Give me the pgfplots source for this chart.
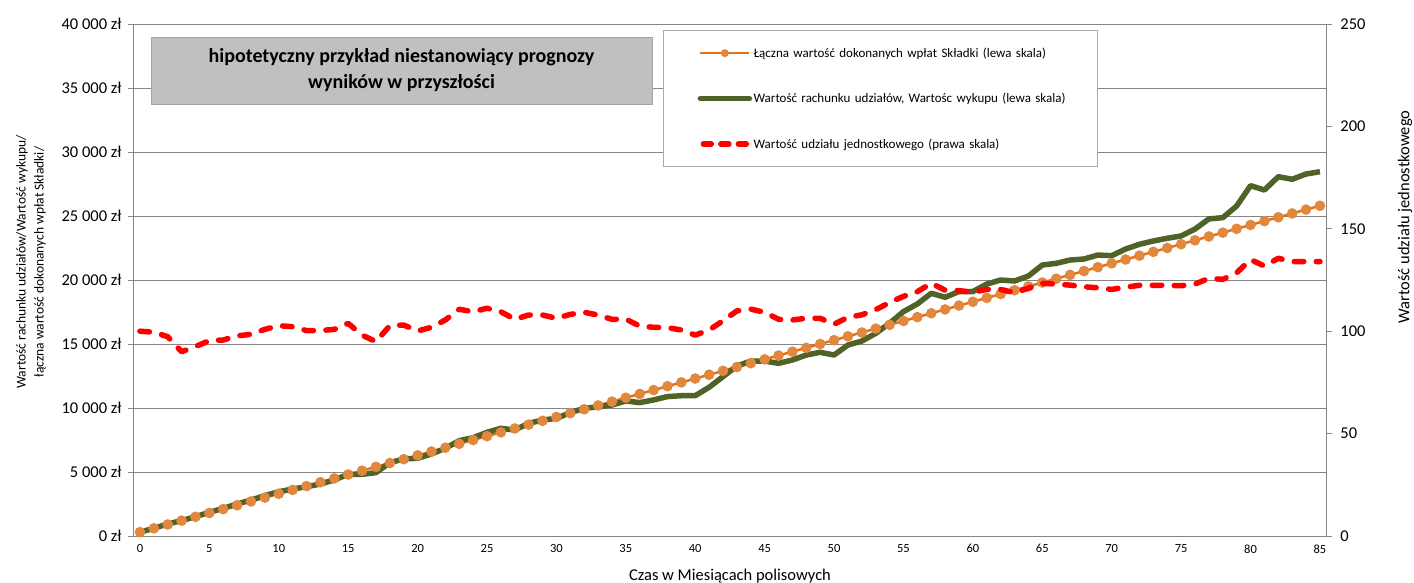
\documentclass[border=0pt]{standalone}
\usepackage{fontspec}
\setmainfont{Carlito}
\usepackage{pgfplots}
\pgfplotsset{compat=1.18}
\usepackage{pgfplotstable}
\definecolor{gridgray}{RGB}{134,134,134}
\definecolor{orline}{RGB}{230,112,20}
\definecolor{ormark}{RGB}{226,136,62}
\definecolor{olivegreen}{RGB}{79,98,40}
\definecolor{boxgray}{RGB}{192,192,192}
\definecolor{boxedge}{RGB}{165,165,165}
\definecolor{legedge}{RGB}{170,170,170}

\pgfplotstableread{
m v
0 300
1 600
2 900
3 1200
4 1500
5 1800
6 2100
7 2400
8 2700
9 3000
10 3300
11 3600
12 3900
13 4200
14 4500
15 4800
16 5100
17 5400
18 5700
19 6000
20 6300
21 6600
22 6900
23 7200
24 7500
25 7800
26 8100
27 8400
28 8700
29 9000
30 9300
31 9600
32 9900
33 10200
34 10500
35 10800
36 11100
37 11400
38 11700
39 12000
40 12300
41 12600
42 12900
43 13200
44 13500
45 13800
46 14100
47 14400
48 14700
49 15000
50 15300
51 15600
52 15900
53 16200
54 16500
55 16800
56 17100
57 17400
58 17700
59 18000
60 18300
61 18600
62 18900
63 19200
64 19500
65 19800
66 20100
67 20400
68 20700
69 21000
70 21300
71 21600
72 21900
73 22200
74 22500
75 22800
76 23100
77 23400
78 23700
79 24000
80 24300
81 24600
82 24900
83 25200
84 25500
85 25800
}\premiums

\pgfplotstableread{
m v
0 300
1 600
2 940
3 1200
4 1510
5 1850
6 2160
7 2500
8 2810
9 3150
10 3460
11 3670
12 3850
13 4060
14 4380
15 4820
16 4820
17 4950
18 5730
19 6020
20 6070
21 6410
22 6850
23 7450
24 7680
25 8100
26 8410
27 8280
28 8800
29 9060
30 9190
31 9640
32 9970
33 10100
34 10230
35 10550
36 10420
37 10630
38 10890
39 10960
40 10960
41 11620
42 12450
43 13280
44 13670
45 13670
46 13490
47 13750
48 14140
49 14350
50 14140
51 14920
52 15230
53 15830
54 16620
55 17530
56 18130
57 18960
58 18650
59 19100
60 19100
61 19680
62 20000
63 19920
64 20310
65 21170
66 21300
67 21560
68 21640
69 21950
70 21900
71 22420
72 22790
73 23050
74 23260
75 23440
76 23980
77 24770
78 24870
79 25780
80 27370
81 27030
82 28070
83 27870
84 28280
85 28460
}\account

\pgfplotstableread{
m v
0 100
1 99.5
2 97.3
3 90
4 92.5
5 95.4
6 95.7
7 97.7
8 98.5
9 100.9
10 102.7
11 102.2
12 100.3
13 100.3
14 100.9
15 103.8
16 98.1
17 94.9
18 102.7
19 103
20 100.1
21 101.9
22 105.5
23 110.7
24 109.5
25 111.2
26 109.5
27 105.8
28 107.9
29 107.9
30 106.3
31 108.2
32 109.2
33 107.9
34 105.8
35 105.9
36 102.5
37 101.9
38 101.7
39 100.6
40 98.1
41 100.6
42 105.1
43 109.9
44 110.8
45 109.2
46 105.8
47 105.5
48 106.3
49 106.3
50 103.4
51 106.8
52 108
53 110.5
54 114
55 117
56 119.3
57 123.4
58 120
59 119.8
60 119
61 120.4
62 120.4
63 118.8
64 121
65 123.4
66 123
67 122.5
68 121.7
69 121.2
70 120.4
71 121.5
72 122.4
73 122.4
74 122.4
75 122.2
76 123
77 125.8
78 125.3
79 128.5
80 135
81 131.8
82 135.6
83 134
84 134
85 134
}\unitvalue

\begin{document}
\begin{tikzpicture}
\path[use as bounding box] (0,0) rectangle (1414bp,583bp);
\begin{axis}[
  at={(133bp,47bp)}, anchor=south west,
  scale only axis, width=1194bp, height=512bp,
  xmin=-0.5, xmax=85.5, ymin=0, ymax=40000,
  scaled y ticks=false, scaled x ticks=false,
  axis line style={gridgray, line width=0.8bp},
  xtick={0,5,...,85},
  xticklabels={0,5,10,15,20,25,30,35,40,45,50,55,60,65,70,75,80,85},
  xtick style={draw=none},
  minor xtick={-0.5,0.5,...,85.5},
  minor x tick style={gridgray, line width=0.8bp},
  minor tick length=4bp,
  major tick length=5bp,
  tick align=outside,
  xtick pos=left, ytick pos=left,
  ytick={0,5000,...,40000},
  yticklabels={0 zł,5 000 zł,10 000 zł,15 000 zł,20 000 zł,25 000 zł,30 000 zł,35 000 zł,40 000 zł},
  ytick style={gridgray, line width=0.8bp},
  ymajorgrids,
  major grid style={gridgray, line width=0.8bp},
  xticklabel style={font=\fontsize{12.5bp}{14bp}\selectfont, text=black},
  yticklabel style={font=\fontsize{16.5bp}{18bp}\selectfont, text=black, xshift=-3bp},
  clip=false,
]
\addplot[orline, line width=2.5bp, mark=*, mark size=4bp,
  mark options={fill=ormark, draw=ormark, solid}] table[x=m, y=v] {\premiums};
\addplot[olivegreen, line width=5.5bp, line join=round] table[x=m, y=v] {\account};
\node[fill=boxgray, draw=boxedge, line width=0.8bp, minimum width=501bp, minimum height=67bp,
  align=center, inner sep=0pt,
  font=\bfseries\fontsize{20bp}{26bp}\selectfont]
  at (rel axis cs:0.2249,0.9092)
  {hipotetyczny przykład niestanowiący prognozy\\wyników w przyszłości};
\end{axis}
\begin{axis}[
  at={(133bp,47bp)}, anchor=south west,
  scale only axis, width=1194bp, height=512bp,
  xmin=-0.5, xmax=85.5, ymin=0, ymax=250,
  axis x line=none, axis y line*=right,
  axis line style={gridgray, line width=0.8bp},
  ytick={0,50,...,250},
  yticklabels={0,50,100,150,200,250},
  tick align=outside,
  major tick length=5bp,
  ytick style={gridgray, line width=0.8bp},
  yticklabel style={font=\fontsize{16.5bp}{18bp}\selectfont, text=black, xshift=5bp},
  clip=false,
  legend cell align=left,
  legend style={at={(0.4439,0.9883)}, anchor=north west,
    draw=legedge, line width=0.8bp, fill=white,
    inner sep=0pt, row sep=0pt, column sep=0pt,
    nodes={draw=none, fill=none, inner xsep=1.5bp, inner ysep=0pt, minimum height=45.5bp,
      text width=342bp, anchor=west,
      font=\fontsize{13bp}{15bp}\selectfont}},
]
\addlegendimage{legend image code/.code={
  \path[draw=none, fill=none] (0bp,-22.75bp) rectangle (86bp,22.75bp);
  \draw[orline, line width=2.5bp] (37bp,0bp) -- (86bp,0bp);
  \fill[ormark, draw=none] (61.5bp,0bp) circle (4bp);}}
\addlegendentry{Łączna wartość dokonanych wpłat Składki (lewa skala)}
\addlegendimage{legend image code/.code={
  \path[draw=none, fill=none] (0bp,-22.75bp) rectangle (86bp,22.75bp);
  \draw[olivegreen, line width=5.5bp, line cap=round] (37bp,0bp) -- (86bp,0bp);}}
\addlegendentry{Wartość rachunku udziałów, Wartośc wykupu (lewa skala)}
\addlegendimage{legend image code/.code={
  \path[draw=none, fill=none] (0bp,-22.75bp) rectangle (86bp,22.75bp);
  \draw[red, line width=5.5bp, line cap=round, dash pattern=on 8bp off 9.5bp] (40bp,0bp) -- (86bp,0bp);}}
\addlegendentry{Wartość udziału jednostkowego (prawa skala)}
\addplot[red, line width=5.5bp, line cap=round, line join=round,
  dash pattern=on 9.5bp off 12.5bp, forget plot] table[x=m, y=v] {\unitvalue};
\end{axis}
\node[rotate=90, align=center, font=\fontsize{13.5bp}{18bp}\selectfont]
  at (31bp,321bp)
  {Wartość rachunku udziałów/Wartość wykupu/\\łączna wartość dokonanych wpłat Składki/};
\node[rotate=90, font=\fontsize{16.5bp}{18bp}\selectfont] at (1405bp,366bp)
  {Wartość udziału jednostkowego};
\node[anchor=base, font=\fontsize{16.5bp}{18bp}\selectfont, inner sep=0pt] at (730bp,3bp)
  {Czas w Miesiącach polisowych};
\end{tikzpicture}
\end{document}
